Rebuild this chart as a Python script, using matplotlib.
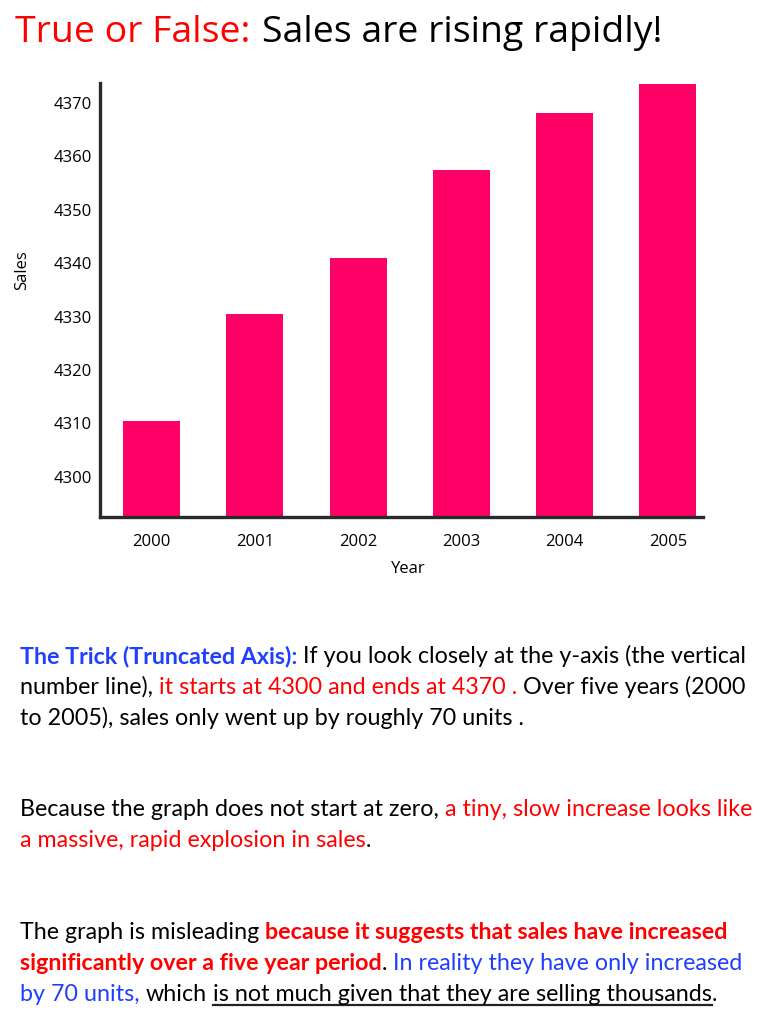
import matplotlib
matplotlib.use('Agg')
import matplotlib.pyplot as plt
from matplotlib.lines import Line2D

# chart data
years = ['2000', '2001', '2002', '2003', '2004', '2005']
sales = [4310.5, 4330.5, 4341, 4357.5, 4368, 4373.5]
y_ticks = [4300, 4310, 4320, 4330, 4340, 4350, 4360, 4370]

title_parts = [('True or False:', '#ff0000'), ('Sales are rising rapidly!', '#000000')]

RED = '#ff0000'
BLUE = '#1f3fff'
BLACK = '#000000'

# paragraph lines: (text, colour, bold, underline)
para_lines = [
    [('The Trick (Truncated Axis):', BLUE, True, False),
     ('If you look closely at the y-axis (the vertical', BLACK, False, False)],
    [('number line),', BLACK, False, False),
     ('it starts at 4300 and ends at 4370 .', RED, False, False),
     ('Over five years (2000', BLACK, False, False)],
    [('to 2005), sales only went up by roughly 70 units .', BLACK, False, False)],
    [('Because the graph does not start at zero,', BLACK, False, False),
     ('a tiny, slow increase looks like', RED, False, False)],
    [('a massive, rapid explosion in sales', RED, False, False),
     ('.', BLACK, False, False, 'nospace')],
    [('The graph is misleading', BLACK, False, False),
     ('because it suggests that sales have increased', RED, True, False)],
    [('significantly over a five year period', RED, True, False),
     ('.', BLACK, False, False, 'nospace'),
     ('In reality they have only increased', BLUE, False, False)],
    [('by 70 units,', BLUE, False, False),
     ('which', BLACK, False, False),
     ('is not much given that they are selling thousands', BLACK, False, True),
     ('.', BLACK, False, False, 'nospace')],
]
para_baselines = [663, 694, 725, 816, 847, 939, 970, 1001]
para_right = [750, 748, 527, 757, 378, 745, 757, 728]  # right edge of each line

W, H = 768, 1024
fig = plt.figure(figsize=(W / 100, H / 100), dpi=100)
renderer = fig.canvas.get_renderer()

AXIS_FONT = 'Open Sans'
BODY_FONT = 'Lato'


def px(x, y):
    return x / W, 1 - y / H


def text_width(s, size, weight='normal', family=BODY_FONT):
    t = fig.text(0, 0, s, fontsize=size, fontweight=weight, family=family)
    w = t.get_window_extent(renderer).width
    t.remove()
    return w


def line_width(segs, size, family=BODY_FONT):
    sp = text_width('a a', size, family=family) - text_width('aa', size, family=family)
    w = 0
    for i, seg in enumerate(segs):
        if i > 0 and len(seg) == 4:
            w += sp
        w += text_width(seg[0], size, 'bold' if seg[2] else 'normal', family)
    return w


def draw_line(x0, base, segs, size, family=BODY_FONT):
    sp = text_width('a a', size, family=family) - text_width('aa', size, family=family)
    x = x0
    for i, seg in enumerate(segs):
        s, col, bold, under = seg[:4]
        if i > 0 and len(seg) == 4:
            x += sp
        wt = 'bold' if bold else 'normal'
        t = fig.text(*px(x, base), s, fontsize=size, color=col, fontweight=wt,
                     family=family, va='baseline', ha='left')
        w = t.get_window_extent(renderer).width
        if under:
            fig.add_artist(Line2D([x / W, (x + w) / W], [1 - (base + 4) / H] * 2,
                                 color='#222222', lw=1.6, transform=fig.transFigure))
        x += w
    return x


# --- bar chart ---
ax = fig.add_axes([100 / W, 1 - 517 / H, 603 / W, 434 / H])
ax.bar(range(len(years)), sales, width=0.55, color='#ff0066', zorder=2)
ax.set_xlim(-0.5, 5.34)
ax.set_ylim(4292.5, 4373.7)
ax.set_yticks(y_ticks)
ax.set_yticklabels([str(v) for v in y_ticks], family=AXIS_FONT, fontsize=12)
ax.set_xticks(range(len(years)))
ax.set_xticklabels(years, family=AXIS_FONT, fontsize=12)
ax.tick_params(length=0)
ax.tick_params(axis='y', pad=6)
ax.tick_params(axis='x', pad=12.5)
for side in ['top', 'right']:
    ax.spines[side].set_visible(False)
for side in ['left', 'bottom']:
    ax.spines[side].set_linewidth(2.4)
    ax.spines[side].set_color('#2a2a2a')
ax.set_xlabel('Year', family=AXIS_FONT, fontsize=12)
ax.xaxis.set_label_coords(0.511, -0.102)
ax.set_ylabel('Sales', family=AXIS_FONT, fontsize=12)
ax.yaxis.set_label_coords(-0.116, 0.569)

# --- title ---
title_size = 26
gap = 12
w1 = text_width(title_parts[0][0], title_size, family=AXIS_FONT)
w2 = text_width(title_parts[1][0], title_size, family=AXIS_FONT)
title_size *= (665 - 15 - gap) / (w1 + w2)
x = 15
for s, col in title_parts:
    t = fig.text(*px(x, 42), s, fontsize=title_size, color=col, family=AXIS_FONT,
                 va='baseline', ha='left')
    x += t.get_window_extent(renderer).width + gap

# --- explanation paragraphs: one size that keeps every line inside its reference width ---
base_size = 16
ratios = [(r - 20) / line_width(segs, base_size) for segs, r in zip(para_lines, para_right)]
body_size = base_size * min(ratios)

for segs, base in zip(para_lines, para_baselines):
    draw_line(20, base, segs, body_size)

fig.savefig('out.png', dpi=100)
